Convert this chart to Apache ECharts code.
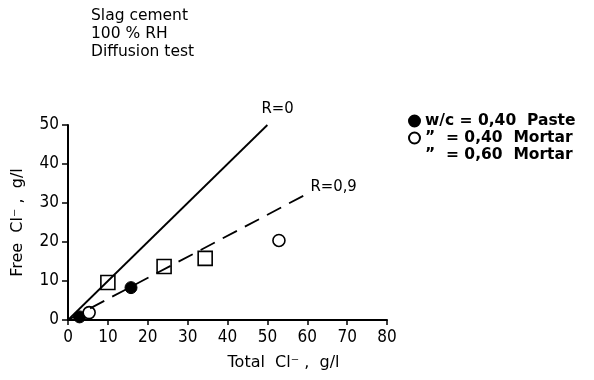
<!DOCTYPE html>
<html><head><meta charset="utf-8">
<script src="https://cdn.jsdelivr.net/npm/echarts@6/dist/echarts.min.js"></script>
<style>html,body{margin:0;padding:0;background:#fff}#c{width:594px;height:380px}</style>
</head><body><div id="c"></div>
<script>
const xTicks = [0,10,20,30,40,50,60,70,80];
const yTicks = [0,10,20,30,40,50];
const pasteData = [[2.9,0.8],[15.8,8.3]];
const mortar40Data = [[5.3,1.9],[52.9,20.4]];
const mortar60Data = [[10.0,9.6],[24.1,13.7],[34.4,15.8]];
const lineR0 = [[0,0],[50,50]];
const lineR09 = [[0,0],[59.3,32]];
const titleLines = ['Slag cement','100 % RH','Diffusion test'];
const seriesNames = ['w/c = 0,40  Paste','\u201d  = 0,40  Mortar','\u201d  = 0,60  Mortar'];

const font = '"DejaVu Sans", sans-serif';
const fontC = '"DejaVu Sans Condensed", "DejaVu Sans", sans-serif';
const chart = echarts.init(document.getElementById('c'));
chart.setOption({
  animation:false,
  backgroundColor:'#fff',
  grid:{left:68,top:125,width:319,height:195},
  title:{text:titleLines.join('\n'),left:86,top:2,textStyle:{fontFamily:font,fontWeight:'normal',fontSize:15.5,lineHeight:18,color:'#000'}},
  legend:{
    orient:'vertical',left:403,top:108,itemWidth:11,itemHeight:11,itemGap:1,
    textStyle:{fontFamily:font,fontSize:15.5,fontWeight:'bold',color:'#000'},
    data:[
      {name:seriesNames[0],icon:'circle'},
      {name:seriesNames[1],icon:'circle'},
      {name:seriesNames[2],icon:'none'}
    ],
    selectedMode:false
  },
  xAxis:{type:'value',min:0,max:80,interval:10,
    name:'Total  Cl\u207b ,  g/l',nameLocation:'middle',nameGap:35,
    nameTextStyle:{fontFamily:font,fontSize:16,color:'#000',padding:[0,0,0,112]},
    axisLine:{lineStyle:{color:'#000',width:2}},
    axisTick:{show:true,length:5,lineStyle:{color:'#000',width:1.5}},
    axisLabel:{fontFamily:fontC,fontSize:17,color:'#000',margin:9,formatter:v=>xTicks.includes(v)?String(v):''},
    splitLine:{show:false}},
  yAxis:{type:'value',min:0,max:50,interval:10,
    name:'Free  Cl\u207b ,  g/l',nameLocation:'middle',nameGap:42,
    nameTextStyle:{fontFamily:font,fontSize:16,color:'#000'},
    axisLine:{show:true,lineStyle:{color:'#000',width:2}},
    axisTick:{show:true,length:6,lineStyle:{color:'#000',width:1.5}},
    axisLabel:{fontFamily:fontC,fontSize:17,color:'#000',margin:9,formatter:v=>yTicks.includes(v)?String(v):''},
    splitLine:{show:false}},
  series:[
    {type:'line',data:lineR0,symbol:'none',lineStyle:{color:'#000',width:1.8},silent:true,
      endLabel:{show:true,formatter:'R=0',fontFamily:fontC,fontSize:16.5,color:'#000',offset:[-14,-16]}},
    {type:'line',data:lineR09,symbol:'none',lineStyle:{color:'#000',width:1.8,type:[16,9]},silent:true,
      endLabel:{show:true,formatter:'R=0,9',fontFamily:fontC,fontSize:16.5,color:'#000',offset:[-2,-8]}},
    {name:seriesNames[2],type:'scatter',data:mortar60Data,symbol:'rect',symbolSize:14,
      itemStyle:{color:'#fff',borderColor:'#000',borderWidth:1.6,opacity:1}},
    {name:seriesNames[0],type:'scatter',data:pasteData,symbol:'circle',symbolSize:12,
      itemStyle:{color:'#000',borderColor:'#000',borderWidth:1,opacity:1}},
    {name:seriesNames[1],type:'scatter',data:mortar40Data,symbol:'circle',symbolSize:12,
      itemStyle:{color:'#fff',borderColor:'#000',borderWidth:1.6,opacity:1}}
  ]
});
</script></body></html>
